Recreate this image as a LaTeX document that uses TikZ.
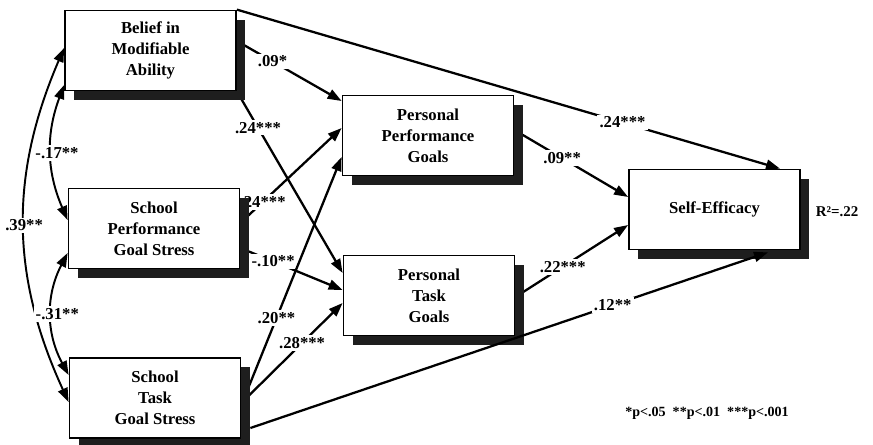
\documentclass[tikz,border=0pt]{standalone}
\usepackage{fontspec}
\setmainfont{Liberation Serif}
\usetikzlibrary{arrows.meta,shadows,backgrounds}
\definecolor{shade}{RGB}{30,30,30}

\begin{document}
\begin{tikzpicture}[
    box/.style={rectangle, draw=black, fill=white, line width=1pt,
              minimum width=3.42cm, minimum height=1.6cm, align=center,
              font=\fontsize{9.5}{12}\selectfont\bfseries,
              drop shadow={shadow xshift=0.18cm, shadow yshift=-0.18cm,
                           fill=shade, opacity=1}},
    lab/.style={font=\fontsize{9.5}{11}\selectfont\bfseries, fill=white,
              inner sep=1.2pt},
    arr/.style={-{Triangle[length=2.8mm, width=2mm]}, draw=black,
              line width=1.3pt},
    corr/.style={{Triangle[length=2.8mm, width=2mm]}-{Triangle[length=2.8mm, width=2mm]},
              draw=black, line width=1.1pt},
    note/.style={font=\fontsize{8}{10}\selectfont\bfseries}]
  \useasboundingbox (0,0) rectangle (17.46,8.88);

  % ---------- predictors -------------------------------------------------
  \node[box] (bel) at (3.01,7.87) {Belief in\\Modifiable\\Ability};
  \node[box] (sps) at (3.08,4.31) {School\\Performance\\Goal Stress};
  \node[box] (sts) at (3.10,0.92) {School\\Task\\Goal Stress};

  % ---------- mediators and outcome --------------------------------------
  \node[box] (ppg) at (8.56,6.17) {Personal\\Performance\\Goals};
  \node[box] (ptg) at (8.58,2.97) {Personal\\Task\\Goals};
  \node[box] (se)  at (14.29,4.69) {Self-Efficacy};
  \node[note, font=\fontsize{8.5}{10}\selectfont\bfseries] (rsq)
    at (16.74,4.64) {R²=.22};
  \node[note] (sig) at (14.14,0.62) {*p<.05 \ **p<.01 \ ***p<.001};

  \begin{scope}[on background layer]
    % ---------- correlations among predictors ----------------------------
    \draw[corr] ([yshift=0.05cm]bel.west) to[bend right=24]
      node[lab] {.39**} ([yshift=-0.08cm]sts.west);
    \draw[corr] ([yshift=-0.69cm]bel.west) to[bend right=22]
      node[lab, xshift=0.12cm] {-.17**} ([yshift=0.17cm]sps.west);
    \draw[corr] ([yshift=-0.49cm]sps.west) to[bend right=28]
      node[lab, xshift=0.12cm] {-.31**} ([yshift=0.46cm]sts.west);

    % ---------- paths to the goals ----------------------------------------
    \draw[arr] ([yshift=0.19cm]bel.east) -- node[lab, pos=0.34] {.09*}
      ([yshift=0.69cm]ppg.west);
    \draw[arr] (bel.south east) -- node[lab, pos=0.2] {.24***}
      ([yshift=0.45cm]ptg.west);
    \draw[arr] ([yshift=0.11cm]sps.east) -- node[lab, pos=0.22] {.24***}
      ([yshift=0.15cm]ppg.west);
    \draw[arr] ([yshift=-0.39cm]sps.east) -- node[lab, pos=0.32] {-.10**}
      ([yshift=0.11cm]ptg.west);
    \draw[arr] ([yshift=-0.14cm]sts.east) -- node[lab, pos=0.35] {.20**}
      ([yshift=-0.43cm]ppg.west);
    \draw[arr] ([yshift=-0.10cm]sts.east) -- node[lab, pos=0.6] {.28***}
      ([yshift=-0.15cm]ptg.west);

    % ---------- paths to self-efficacy ------------------------------------
    \draw[arr] (bel.north east) -- node[lab, pos=0.71] {.24***}
      ([xshift=1.31cm]se.north);
    \draw[arr] ([yshift=0.11cm]ppg.east) -- node[lab, pos=0.42] {.09**}
      ([yshift=0.25cm]se.west);
    \draw[arr] ([yshift=-0.03cm]ptg.east) -- node[lab, pos=0.42] {.22***}
      ([yshift=-0.31cm]se.west);
  \end{scope}
  % tip lies on the shadow, so this one goes on top
  \draw[arr] ([xshift=0.18cm, yshift=-0.6cm]sts.east) -- node[lab, pos=0.7] {.12**}
    ([xshift=1.07cm, yshift=-0.04cm]se.south);
\end{tikzpicture}
\end{document}
